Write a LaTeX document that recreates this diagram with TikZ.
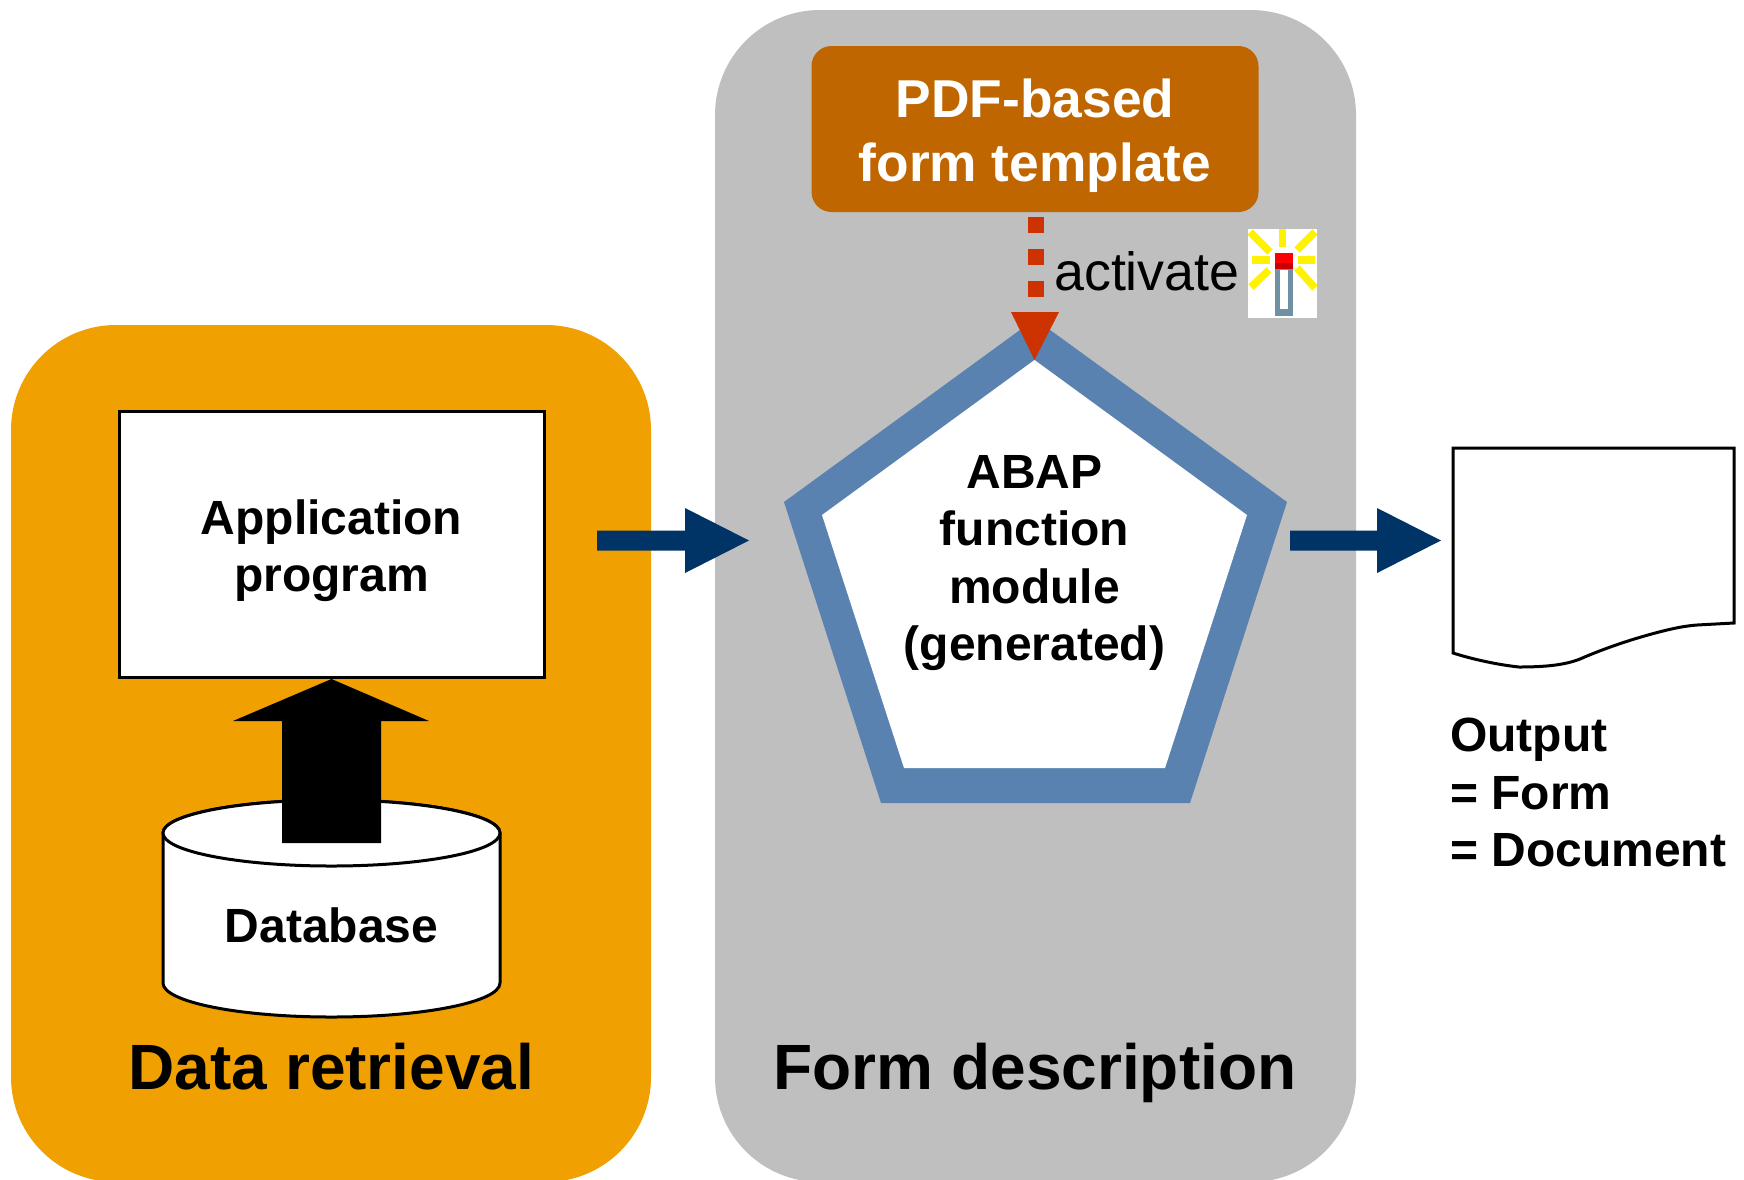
\documentclass[tikz,border=0pt]{standalone}
\usepackage{fontspec}
\setmainfont{Liberation Sans}
\definecolor{orangepanel}{HTML}{F0A000}
\definecolor{graypanel}{HTML}{BFBFBF}
\definecolor{brownbox}{HTML}{BF6600}
\definecolor{penta}{HTML}{5A82B0}
\definecolor{navy}{HTML}{003366}
\definecolor{redorange}{HTML}{CC3300}
\definecolor{wandgray}{HTML}{7090A4}
\tikzset{
  panel/.style={rounded corners=105pt},
  lbl/.style={font=\fontsize{48}{57.6}\selectfont\bfseries,align=center,inner sep=0pt},
  biglbl/.style={font=\fontsize{64}{70}\selectfont\bfseries,inner sep=0pt,anchor=base},
  outline/.style={draw=black,line width=3pt,fill=white},
  bigarrow/.style={fill=navy},
  spark/.style={draw=yellow,line width=7.5pt},
}
\begin{document}
\begin{tikzpicture}[x=1pt,y=-1pt]
\useasboundingbox (0,0) rectangle (1744,1179);
\clip (0,0) rectangle (1744,1179);
% panels
\path[fill=orangepanel,panel] (11,325) rectangle (651,1182);
\path[fill=graypanel,panel] (715,10) rectangle (1356,1182);
% template
\node[fill=brownbox,rounded corners=20pt,minimum width=447pt,minimum height=166pt,inner sep=0pt] (template) at (1035,129) {};
\node[text=white,font=\fontsize{53.3}{64}\selectfont\bfseries,align=center,inner sep=0pt] (templatetext) at (1035,136) {PDF-based\\form template};
% application
\node[outline,minimum width=425pt,minimum height=266pt,inner sep=0pt] (app) at (331.5,544) {};
\node[lbl] (apptext) at (331.5,550.5) {Application\\program};
% database cylinder
\path[outline] (163,833) -- (163,983) arc[start angle=180,end angle=360,x radius=168.5pt,y radius=34pt] -- (500,833) arc[start angle=0,end angle=180,x radius=168.5pt,y radius=33pt] -- cycle;
\draw[outline] (331.5,833) ellipse[x radius=168.5pt,y radius=33pt];
\node[lbl,anchor=base] (db) at (331.5,942) {Database};
% black up arrow
\fill[black] (282,843) -- (381,843) -- (381,721) -- (429,721) -- (331.5,679) -- (233,721) -- (282,721) -- cycle;
% pentagon
\fill[penta] (1035,319) -- (1287,502) -- (1190,803) -- (881,803) -- (784,502) -- cycle;
\fill[white] (1034.5,360) -- (1247,515) -- (1165,768) -- (904,768) -- (822,515) -- cycle;
\node[lbl] (abap) at (1034.5,563) {ABAP\\function\\module\\(generated)};
% activate connector
\coordinate (dashstart) at (1036,217);
\coordinate (dashend) at (1036,297);
\coordinate (tip) at (1034.5,360);
\draw[redorange,line width=16pt,dash pattern=on 16pt off 16pt] (dashstart) -- (dashend);
\fill[redorange] (1011,312) -- (1059,312) -- (tip) -- cycle;
\node[font=\fontsize{53.8}{60}\selectfont,inner sep=0pt,anchor=base west] (activate) at (1054,290) {activate};
% icon
\fill[white] (1248,229) rectangle (1317,318);
\begin{scope}
\clip (1248,229) rectangle (1317,318);
\draw[spark] (1282.5,229) -- (1282.5,247);
\draw[spark] (1250,232) -- (1270,252);
\draw[spark] (1315,232) -- (1297,250);
\draw[spark] (1252,260) -- (1270,260);
\draw[spark] (1298,260) -- (1315,260);
\draw[spark] (1251,287) -- (1269,270);
\draw[spark] (1315,288) -- (1297,268);
\end{scope}
\fill[wandgray] (1275,269) rectangle (1293,316);
\fill[white] (1280,270) rectangle (1288,309);
\fill[red] (1275,253) rectangle (1293,269);
\fill[red!80!black] (1275,263) rectangle (1293,269);
% flow arrows
\fill[bigarrow] (597,530.5) -- (685,530.5) -- (685,508) -- (749,540.5) -- (685,573) -- (685,550.5) -- (597,550.5) -- cycle;
\fill[bigarrow] (1290,530.5) -- (1377,530.5) -- (1377,508) -- (1441,540.5) -- (1377,573) -- (1377,550.5) -- (1290,550.5) -- cycle;
% document
\draw[outline] (1453,448) -- (1734,448) -- (1734,623) -- (1697,625) .. controls (1685,626) and (1675,628) .. (1663,631) .. controls (1635,638) and (1605,648) .. (1580,659) .. controls (1565,665) and (1545,667) .. (1519,667) .. controls (1500,665) and (1475,660) .. (1453,653) -- cycle;
\node[lbl,align=left,anchor=north west] (output) at (1450,718) {Output\\= Form\\= Document};
% titles
\node[biglbl] (dr) at (331.5,1089) {Data retrieval};
\node[biglbl] (fd) at (1035,1089) {Form description};
\end{tikzpicture}
\end{document}
